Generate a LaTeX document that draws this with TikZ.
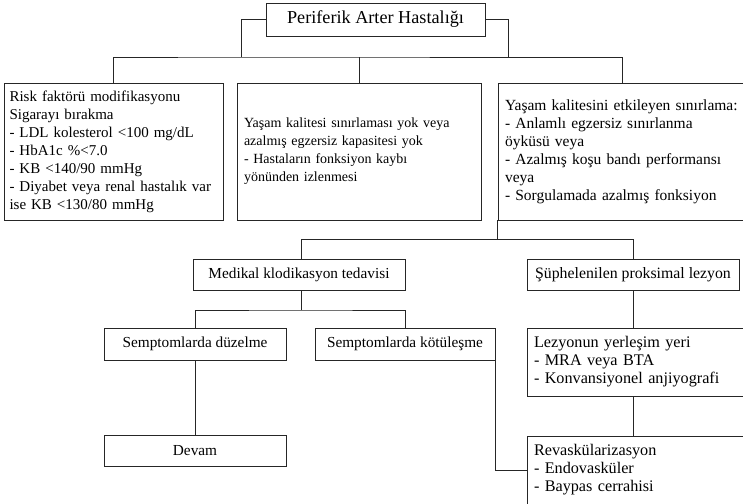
\documentclass[tikz,border=0pt]{standalone}
\usepackage{fontspec}
\setmainfont{Liberation Serif}

\begin{document}
\begin{tikzpicture}[x=1pt, y=-1pt,
  line/.style={draw=black!85, line width=0.9pt},
  fs/.style={font=\fontsize{#1}{18}\selectfont},
  box/.style={line, inner sep=0pt, fs=15.3},
  textbox/.style={box, align=left, text width=#1, inner xsep=7pt}]
  \useasboundingbox (0,0) rectangle (743,503);
  \clip (0,0) rectangle (743,503);

  % Title
  \node[box, fs=18.2, minimum width=219pt, minimum height=33pt] (pah) at (375.5,19.5)
    {Periferik Arter Hastalığı};

  % Upper row
  \node[textbox=208pt, fs=15, inner xsep=5.5pt, minimum height=137pt] (risk) at (113.5,151.5)
    {Risk faktörü modifikasyonu\\
     Sigarayı bırakma\\
     - LDL kolesterol <100 mg/dL\\
     - HbA1c \%<7.0\\
     - KB <140/90 mmHg\\
     - Diyabet veya renal hastalık var\\
     ise KB <130/80 mmHg};
  \node[textbox=230pt, fs=14, minimum height=137pt] (izlem) at (359,151.5)
    {Yaşam kalitesi sınırlaması yok veya\\
     azalmış egzersiz kapasitesi yok\\
     - Hastaların fonksiyon kaybı\\
     yönünden izlenmesi};
  \node[textbox=246pt, fs=15.5, minimum height=137pt] (kisit) at (628,151.5)
    {Yaşam kalitesini etkileyen sınırlama:\\
     - Anlamlı egzersiz sınırlanma\\
     öyküsü veya\\
     - Azalmış koşu bandı performansı\\
     veya\\
     - Sorgulamada azalmış fonksiyon};

  % Middle row
  \node[box, minimum width=212pt, minimum height=31pt] (medikal) at (299,274.5)
    {Medikal klodikasyon tedavisi};
  \node[box, fs=15.8, minimum width=212pt, minimum height=31pt] (lezyon) at (633,274.5)
    {Şüphelenilen proksimal lezyon};

  % Lower rows
  \node[box, minimum width=182pt, minimum height=32pt] (duzelme) at (195,344)
    {Semptomlarda düzelme};
  \node[box, minimum width=180pt, minimum height=32pt] (kotu) at (405,344)
    {Semptomlarda kötüleşme};
  \node[textbox=209pt, fs=16.2, minimum height=68pt] (yer) at (638.5,362)
    {Lezyonun yerleşim yeri\\
     - MRA veya BTA\\
     - Konvansiyonel anjiyografi};
  \node[box, minimum width=182pt, minimum height=31pt] (devam) at (195,450.5)
    {Devam};
  \node[textbox=209pt, fs=16.2, minimum height=68pt] (revask) at (638.5,470)
    {Revaskülarizasyon\\
     - Endovasküler\\
     - Baypas cerrahisi};

  % Connectors
  \coordinate (hatsol) at (241,57);
  \coordinate (hatsag) at (508,57);
  \coordinate (kisitust) at (622,83);
  \coordinate (hatalt) at (301,239);
  \coordinate (hatorta) at (301,310);
  \draw[line] (pah.west) -| (hatsol);
  \draw[line] (pah.east) -| (hatsag);
  \draw[line] (risk.north) |- (hatsol) -| (kisit.north -| kisitust);
  \draw[line] (izlem.north) -- (izlem.north |- hatsol);
  \draw[line] (kisit.south west) -- (kisit.south west |- hatalt);
  \draw[line] (medikal.north -| hatalt) |- (hatalt) -| (lezyon.north);
  \draw[line] (medikal.south -| hatorta) -- (hatorta);
  \draw[line] (duzelme.north) |- (hatorta) -| (kotu.north);
  \draw[line] (duzelme) -- (devam);
  \draw[line] (kotu.south east) |- (revask.west);
  \draw[line] (lezyon.south) -- (lezyon.south |- yer.north);
  \draw[line] (lezyon.south |- yer.south) -- (lezyon.south |- revask.north);
\end{tikzpicture}
\end{document}
